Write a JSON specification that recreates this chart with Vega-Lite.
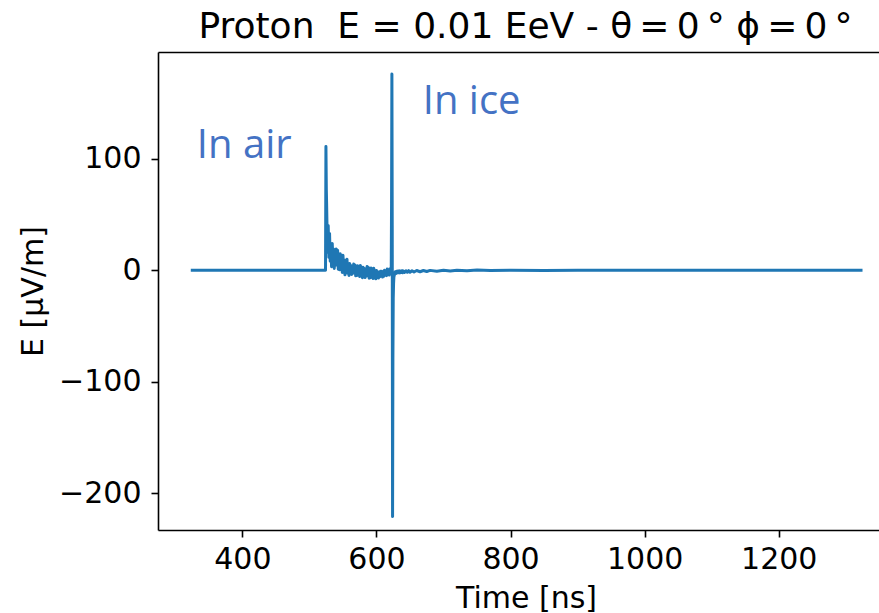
{
  "$schema": "https://vega.github.io/schema/vega-lite/v6.json",
  "width": 721,
  "height": 478,
  "autosize": "none",
  "padding": {"left": 158, "top": 52, "right": 0, "bottom": 83},
  "background": "white",
  "config": {
    "view": {"stroke": null},
    "font": "DejaVu Sans",
    "axis": {"grid": false, "domainColor": "black", "domainWidth": 1.6, "tickColor": "black", "tickWidth": 1.6, "tickSize": 7, "labelFontSize": 30, "labelColor": "black", "labelFont": "DejaVu Sans", "titleFont": "DejaVu Sans", "titleFontSize": 30, "titleFontWeight": "normal", "titleColor": "black"}
  },
  "title": {"text": "Proton\u00a0\u00a0E = 0.01 EeV - θ\u2009=\u20090\u2009° ϕ\u2009=\u20090\u2009°", "font": "DejaVu Sans", "fontSize": 36, "fontWeight": "normal", "color": "black", "dx": 7, "offset": 6},
  "datasets": {
    "wave": [
      {"t": 323, "E": 0}, {"t": 400, "E": 0}, {"t": 500, "E": 0}, {"t": 524, "E": 0},
      {"t": 524.6, "E": 111}, {"t": 525.2, "E": 72}, {"t": 525.6, "E": 60},
      {"t": 526, "E": 46}, {"t": 527, "E": 16}, {"t": 528, "E": 40}, {"t": 529, "E": 11.5},
      {"t": 530, "E": 33}, {"t": 531, "E": 8}, {"t": 532, "E": 22}, {"t": 533, "E": 3},
      {"t": 534, "E": 24}, {"t": 535, "E": 10}, {"t": 536, "E": 19}, {"t": 537, "E": 1.5},
      {"t": 538, "E": 14}, {"t": 539, "E": 4.5}, {"t": 540, "E": 19}, {"t": 541, "E": 6.4},
      {"t": 542, "E": 17.8}, {"t": 543, "E": 0.8}, {"t": 544, "E": 11.6}, {"t": 545, "E": 0.3},
      {"t": 546, "E": 14.7}, {"t": 547, "E": 2.2}, {"t": 548, "E": 10.6}, {"t": 549, "E": -2},
      {"t": 550, "E": 13.3}, {"t": 551, "E": 1.5}, {"t": 552, "E": 9.2}, {"t": 553, "E": -4.2},
      {"t": 554, "E": 8}, {"t": 555, "E": -1.5}, {"t": 556, "E": 9.9}, {"t": 557, "E": -2.7},
      {"t": 558, "E": 5}, {"t": 559, "E": -4.7}, {"t": 560, "E": 6}, {"t": 561, "E": -0.7},
      {"t": 562, "E": 4.3}, {"t": 563, "E": -3.8}, {"t": 564, "E": 1.8}, {"t": 565, "E": -2.7},
      {"t": 566, "E": 5.5}, {"t": 567, "E": -2.3}, {"t": 568, "E": 4.6}, {"t": 569, "E": -5.1},
      {"t": 570, "E": 1.6}, {"t": 571, "E": -4.8}, {"t": 572, "E": 4}, {"t": 573, "E": -3.5},
      {"t": 574, "E": 2.3}, {"t": 575, "E": -5.7}, {"t": 576, "E": 4.2}, {"t": 577, "E": -3.3},
      {"t": 578, "E": 1.9}, {"t": 579, "E": -6.7}, {"t": 580, "E": 2.7}, {"t": 581, "E": -3.1},
      {"t": 582, "E": 1.5}, {"t": 583, "E": -6.6}, {"t": 584, "E": -0.8}, {"t": 585, "E": -5.2},
      {"t": 586, "E": 3.2}, {"t": 587, "E": -4.3}, {"t": 588, "E": 2.5}, {"t": 589, "E": -7.2},
      {"t": 590, "E": -0.4}, {"t": 591, "E": -6.8}, {"t": 592, "E": 2}, {"t": 593, "E": -5.4},
      {"t": 594, "E": 0.1}, {"t": 595, "E": -7.5}, {"t": 596, "E": 1.7}, {"t": 597, "E": -5},
      {"t": 598, "E": -0.6}, {"t": 599, "E": -7.8}, {"t": 600, "E": -0.4}, {"t": 601, "E": -4.8},
      {"t": 602, "E": -1.5}, {"t": 603, "E": -7.1}, {"t": 604, "E": -3.2}, {"t": 605, "E": -6},
      {"t": 606, "E": -0.9}, {"t": 607, "E": -5}, {"t": 608, "E": -1}, {"t": 609, "E": -6.1},
      {"t": 610, "E": -2}, {"t": 611, "E": -5.4}, {"t": 612, "E": -0.1}, {"t": 613, "E": -4.1},
      {"t": 614, "E": -0.6}, {"t": 615, "E": -4.9}, {"t": 616, "E": 1}, {"t": 617, "E": -3},
      {"t": 618, "E": 0.2}, {"t": 619, "E": -4.4}, {"t": 620, "E": 1.2}, {"t": 621, "E": -1.6},
      {"t": 622, "E": -1}, {"t": 622.5, "E": 60}, {"t": 623, "E": 176}, {"t": 623.5, "E": 40},
      {"t": 624, "E": -221}, {"t": 624.5, "E": -80}, {"t": 625, "E": -25}, {"t": 625.5, "E": -12},
      {"t": 626, "E": -6}, {"t": 627, "E": -3.5}, {"t": 628, "E": -1.5}, {"t": 629, "E": -3},
      {"t": 630, "E": -1}, {"t": 631, "E": -2.5}, {"t": 632, "E": -0.8}, {"t": 633, "E": -2.2},
      {"t": 634, "E": -0.6}, {"t": 635, "E": -2.4}, {"t": 636, "E": -0.9}, {"t": 637, "E": -2.1},
      {"t": 638, "E": -0.5}, {"t": 639, "E": -2.3}, {"t": 640, "E": -0.7}, {"t": 642, "E": -2},
      {"t": 644, "E": -0.5}, {"t": 646, "E": -1.9}, {"t": 648, "E": -0.4}, {"t": 650, "E": -1.8},
      {"t": 653, "E": -0.5}, {"t": 656, "E": -1.6}, {"t": 660, "E": -0.3}, {"t": 665, "E": -1.4},
      {"t": 670, "E": -0.3}, {"t": 675, "E": -1.2}, {"t": 680, "E": -0.2}, {"t": 690, "E": -1},
      {"t": 700, "E": -0.1}, {"t": 710, "E": -0.8}, {"t": 720, "E": 0}, {"t": 735, "E": -0.6},
      {"t": 750, "E": 0.1}, {"t": 770, "E": -0.4}, {"t": 800, "E": 0}, {"t": 850, "E": -0.2},
      {"t": 900, "E": 0}, {"t": 1000, "E": 0}, {"t": 1100, "E": 0}, {"t": 1200, "E": 0}, {"t": 1325, "E": 0}
    ],
    "notes": [
      {"t": 332, "E": 101, "label": "In air"},
      {"t": 669, "E": 140.5, "label": "In ice"}
    ]
  },
  "layer": [
    {
      "data": {"name": "wave"},
      "mark": {"type": "line", "color": "#1f77b4", "strokeWidth": 3, "strokeJoin": "round"},
      "encoding": {
        "x": {"field": "t", "type": "quantitative", "scale": {"domain": [274.1, 1349.6], "nice": false, "zero": false},
              "axis": {"values": [400, 600, 800, 1000, 1200], "format": "d", "title": "Time [ns]", "labelPadding": 7, "titleX": 368, "titleY": 77, "titleBaseline": "alphabetic", "titleAnchor": null}},
        "y": {"field": "E", "type": "quantitative", "scale": {"domain": [-233.2, 195.8], "nice": false, "zero": false},
              "axis": {"values": [-200, -100, 0, 100], "title": "E [μV/m]", "labelPadding": 10, "titleX": -116, "titleY": 239, "titleAngle": -90, "titleBaseline": "alphabetic", "titleAlign": "center"}}
      }
    },
    {
      "data": {"name": "notes"},
      "mark": {"type": "text", "font": "Open Sans", "fontSize": 40, "color": "#4472C4", "align": "left", "baseline": "alphabetic"},
      "encoding": {
        "x": {"field": "t", "type": "quantitative", "axis": {"orient": "top", "labels": false, "ticks": false, "title": null}},
        "y": {"field": "E", "type": "quantitative"},
        "text": {"field": "label"}
      }
    }
  ],
  "resolve": {"axis": {"x": "independent", "y": "shared"}}
}
